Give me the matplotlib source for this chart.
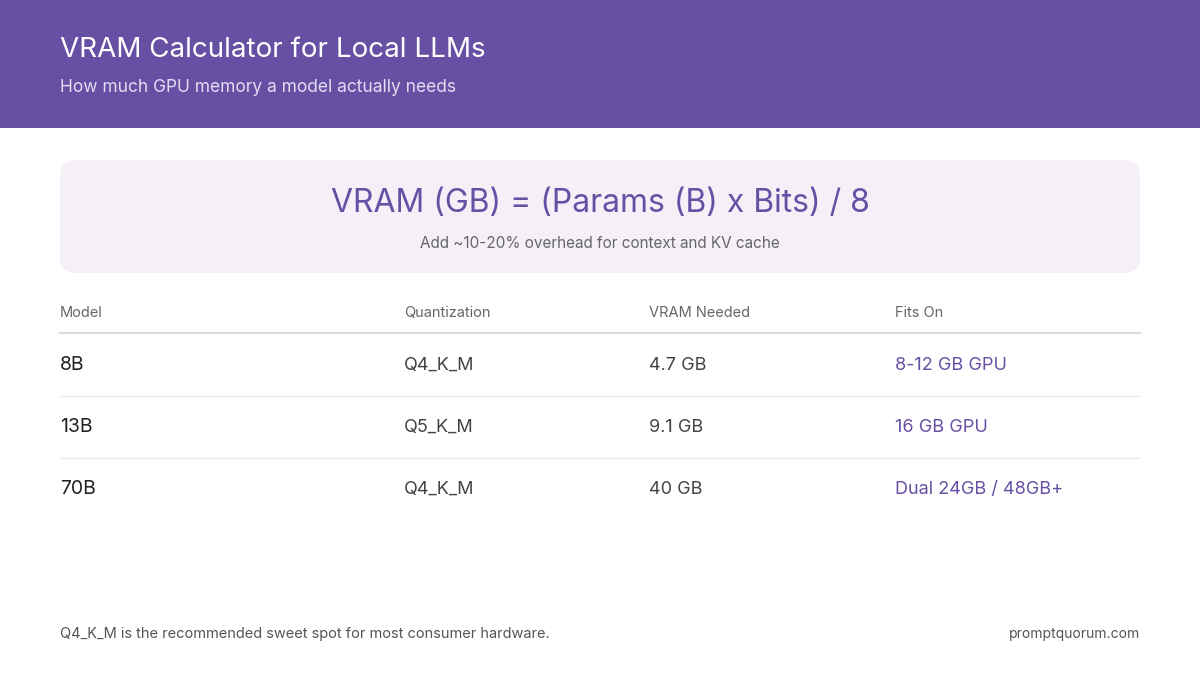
import matplotlib.pyplot as plt
from matplotlib.patches import FancyBboxPatch, Rectangle

plt.rcParams['font.family'] = ['Inter', 'DejaVu Sans']

title = 'VRAM Calculator for Local LLMs'
subtitle = 'How much GPU memory a model actually needs'
formula = 'VRAM (GB) = (Params (B) x Bits) / 8'
formula_note = 'Add ~10-20% overhead for context and KV cache'
headers = ['Model', 'Quantization', 'VRAM Needed', 'Fits On']
models = ['8B', '13B', '70B']
quants = ['Q4_K_M', 'Q5_K_M', 'Q4_K_M']
vram = ['4.7 GB', '9.1 GB', '40 GB']
fits = ['8-12 GB GPU', '16 GB GPU', 'Dual 24GB / 48GB+']
footer = 'Q4_K_M is the recommended sweet spot for most consumer hardware.'
source = 'promptquorum.com'

purple = '#6750a4'
fig = plt.figure(figsize=(12, 6.75), dpi=100)
ax = fig.add_axes([0, 0, 1, 1])
ax.set_xlim(0, 1200)
ax.set_ylim(675, 0)
ax.axis('off')

# header band
ax.add_patch(Rectangle((0, 0), 1200, 128, color=purple, lw=0))
ax.text(60, 50, title, color='white', fontsize=20, va='center')
ax.text(60, 88, subtitle, color='#e4dcf2', fontsize=12.5, va='center')

# formula box
ax.add_patch(FancyBboxPatch((60, 160), 1080, 113, boxstyle='round,pad=0,rounding_size=16',
                            fc='#f5f0f8', ec='none'))
ax.text(600, 203, formula, color=purple, fontsize=23, ha='center', va='center')
ax.text(600, 243, formula_note, color='#666666', fontsize=11, ha='center', va='center')

# table
cols = [60, 404, 649, 895]
for x, h in zip(cols, headers):
    ax.text(x, 313, h, color='#666666', fontsize=10.5, va='center')
ax.plot([60, 1140], [333, 333], color='#dcdce0', lw=1.5)
rows = list(zip(models, quants, vram, fits))
for i, r in enumerate(rows):
    y = 365 + i * 62
    ax.text(cols[0], y, r[0], color='#222222', fontsize=14, va='center')
    ax.text(cols[1], y, r[1], color='#444444', fontsize=13, va='center')
    ax.text(cols[2], y, r[2], color='#444444', fontsize=13, va='center')
    ax.text(cols[3], y, r[3], color=purple, fontsize=13, va='center')
    if i < len(rows) - 1:
        ax.plot([60, 1140], [y + 31, y + 31], color='#ececef', lw=1)

# footer
ax.text(60, 634, footer, color='#555555', fontsize=10.5, va='center')
ax.text(1140, 634, source, color='#555555', fontsize=10, va='center', ha='right')

fig.savefig('out.png', dpi=100)
